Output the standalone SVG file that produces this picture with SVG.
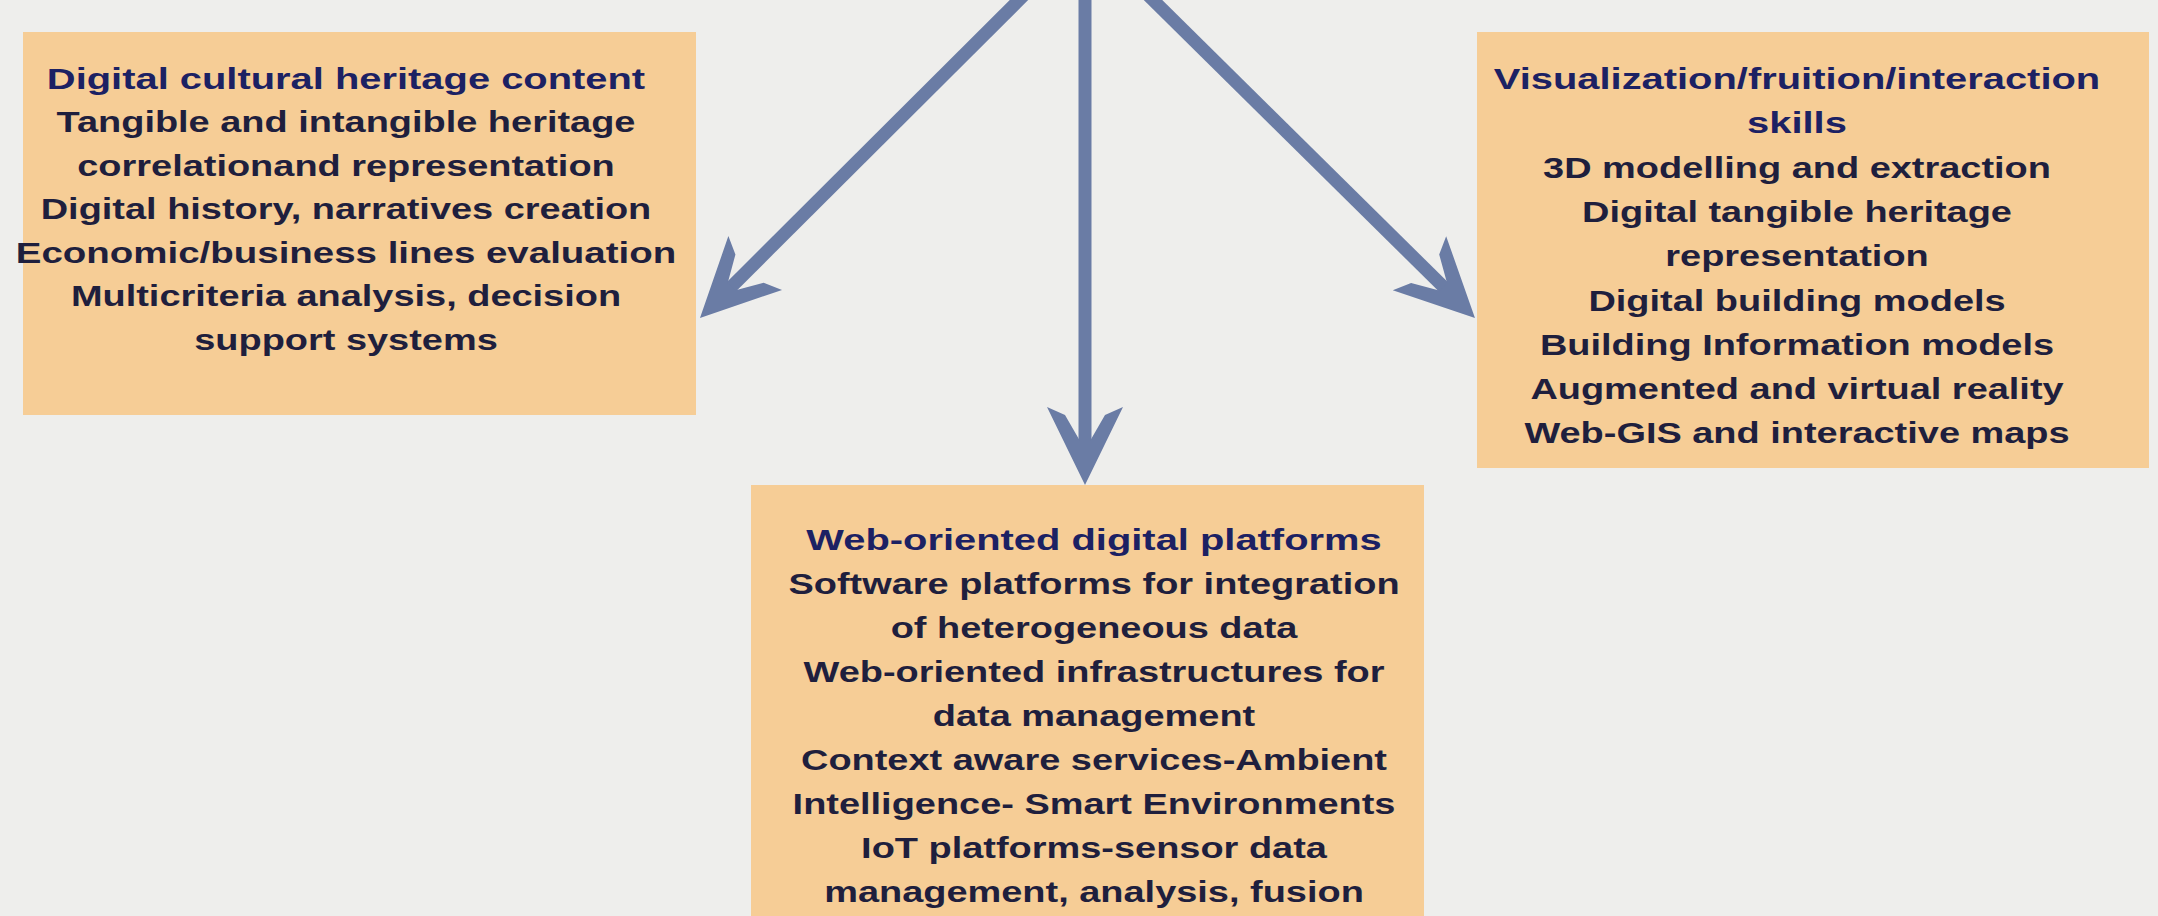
<svg xmlns="http://www.w3.org/2000/svg" width="2158" height="916" viewBox="0 0 2158 916">
  <style>
    .box { fill: #F6CD96; }
    .t { font-family: "Liberation Sans", Arial, sans-serif; font-size: 30px; text-anchor: middle; font-weight: 700; }
    .h { fill: #1c2163; }
    .b { fill: #1f1f3d; }
    .conn { stroke: #6A7CA5; stroke-width: 13; fill: none; }
  </style>
  <defs>
    <marker id="head" viewBox="-80 -40 82 80" refX="-40" refY="0" markerWidth="82" markerHeight="80" markerUnits="userSpaceOnUse" orient="auto">
      <polygon points="0,0 -78,-38 -70,-20 -44,-5 -44,5 -70,20 -78,38" fill="#6A7CA5"/>
    </marker>
  </defs>
  <rect x="0" y="0" width="2158" height="916" fill="#EEEEEC"/>

  <g id="connectors">
    <line class="conn" x1="1034" y1="-15" x2="728.3" y2="289.8" marker-end="url(#head)"/>
    <line class="conn" x1="1085" y1="-15" x2="1085" y2="445" marker-end="url(#head)"/>
    <line class="conn" x1="1137.8" y1="-15" x2="1446.5" y2="289.9" marker-end="url(#head)"/>
  </g>

  <g id="node-content">
    <rect class="box" x="23" y="32" width="673" height="383"/>
    <g class="t" transform="translate(346 0) scale(1.33 1)">
      <text class="h" x="0" y="89">Digital cultural heritage content</text>
    </g>
    <g class="t" transform="translate(346 0) scale(1.265 1)">
      <text class="b" x="0" y="132.5">Tangible and intangible heritage</text>
      <text class="b" x="0" y="176">correlationand representation</text>
      <text class="b" x="0" y="219.5">Digital history, narratives creation</text>
      <text class="b" x="0" y="263" textLength="522" lengthAdjust="spacingAndGlyphs">Economic/business lines evaluation</text>
      <text class="b" x="0" y="306.5">Multicriteria analysis, decision</text>
      <text class="b" x="0" y="350">support systems</text>
    </g>
  </g>

  <g id="node-visualization">
    <rect class="box" x="1477" y="32" width="672" height="436"/>
    <g class="t" transform="translate(1797 0) scale(1.33 1)">
      <text class="h" x="0" y="89">Visualization/fruition/interaction</text>
      <text class="h" x="0" y="133">skills</text>
    </g>
    <g class="t" transform="translate(1797 0) scale(1.265 1)">
      <text class="b" x="0" y="178">3D modelling and extraction</text>
      <text class="b" x="0" y="222">Digital tangible heritage</text>
      <text class="b" x="0" y="266">representation</text>
      <text class="b" x="0" y="311">Digital building models</text>
      <text class="b" x="0" y="355">Building Information models</text>
      <text class="b" x="0" y="399">Augmented and virtual reality</text>
      <text class="b" x="0" y="443">Web-GIS and interactive maps</text>
    </g>
  </g>

  <g id="node-platforms">
    <rect class="box" x="751" y="485" width="673" height="440"/>
    <g class="t" transform="translate(1094 0) scale(1.33 1)">
      <text class="h" x="0" y="550">Web-oriented digital platforms</text>
    </g>
    <g class="t" transform="translate(1094 0) scale(1.265 1)">
      <text class="b" x="0" y="594">Software platforms for integration</text>
      <text class="b" x="0" y="638">of heterogeneous data</text>
      <text class="b" x="0" y="682">Web-oriented infrastructures for</text>
      <text class="b" x="0" y="726">data management</text>
      <text class="b" x="0" y="770">Context aware services-Ambient</text>
      <text class="b" x="0" y="814">Intelligence- Smart Environments</text>
      <text class="b" x="0" y="858">IoT platforms-sensor data</text>
      <text class="b" x="0" y="902">management, analysis, fusion</text>
    </g>
  </g>
</svg>
